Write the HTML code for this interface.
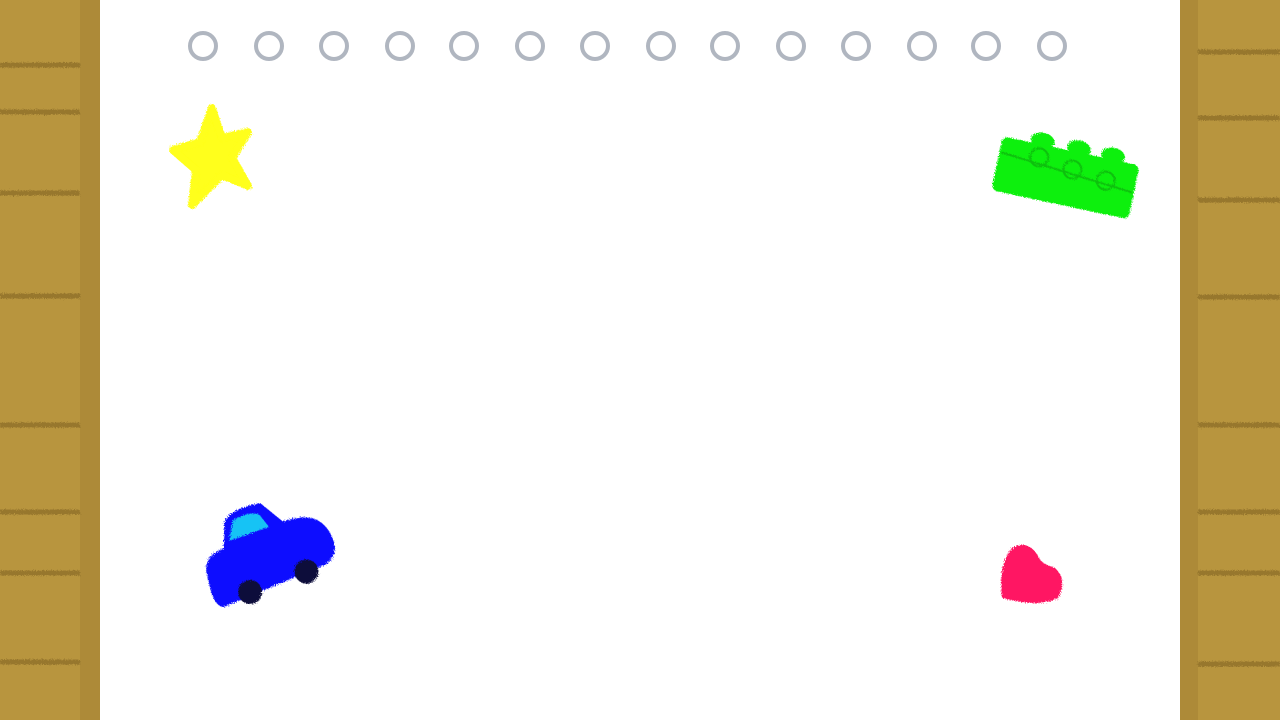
<!DOCTYPE html>
<html><head><meta charset="utf-8"><style>
html,body{margin:0;padding:0;width:1280px;height:720px;overflow:hidden;background:#fff}
svg{display:block}
</style></head><body>
<svg width="1280" height="720" viewBox="0 0 1280 720">
<defs>
<filter id="crayon" x="-20%" y="-20%" width="140%" height="140%">
<feTurbulence type="fractalNoise" baseFrequency="0.9" numOctaves="2" result="n"/>
<feDisplacementMap in="SourceGraphic" in2="n" scale="5"/>
</filter>
</defs>
<rect x="0" y="0" width="100" height="720" fill="#b8953e"/>
<rect x="80" y="0" width="20" height="720" fill="#ad8a38"/>
<rect x="1180" y="0" width="100" height="720" fill="#b8953e"/>
<rect x="1180" y="0" width="18" height="720" fill="#ad8a38"/>
<g stroke="#8f6f2a" stroke-width="5" opacity="0.8" filter="url(#crayon)">
<line x1="0" y1="65" x2="80" y2="65"/><line x1="0" y1="112" x2="80" y2="112"/>
<line x1="0" y1="193" x2="80" y2="193"/><line x1="0" y1="296" x2="80" y2="296"/>
<line x1="0" y1="425" x2="80" y2="425"/><line x1="0" y1="512" x2="80" y2="512"/>
<line x1="0" y1="573" x2="80" y2="573"/><line x1="0" y1="662" x2="80" y2="662"/>
<line x1="1198" y1="52" x2="1280" y2="52"/><line x1="1198" y1="118" x2="1280" y2="118"/>
<line x1="1198" y1="200" x2="1280" y2="200"/><line x1="1198" y1="297" x2="1280" y2="297"/>
<line x1="1198" y1="425" x2="1280" y2="425"/><line x1="1198" y1="512" x2="1280" y2="512"/>
<line x1="1198" y1="573" x2="1280" y2="573"/><line x1="1198" y1="664" x2="1280" y2="664"/>
</g>
<rect x="100" y="0" width="1080" height="720" fill="#fff"/>
<g fill="none" stroke="#b0b6c0" stroke-width="4">
<circle cx="203" cy="46" r="13"/><circle cx="269" cy="46" r="13"/><circle cx="334" cy="46" r="13"/>
<circle cx="400" cy="46" r="13"/><circle cx="464" cy="46" r="13"/><circle cx="530" cy="46" r="13"/>
<circle cx="595" cy="46" r="13"/><circle cx="661" cy="46" r="13"/><circle cx="725" cy="46" r="13"/>
<circle cx="791" cy="46" r="13"/><circle cx="856" cy="46" r="13"/><circle cx="922" cy="46" r="13"/>
<circle cx="986" cy="46" r="13"/><circle cx="1052" cy="46" r="13"/>
</g>
<g filter="url(#crayon)">
<path fill="#ffff1a" stroke="#ffff1a" stroke-width="8" stroke-linejoin="round"
 d="M212,108 L222,138 L248,132 L232,158 L248,186 L222,175 L192,205 L196,170 L173,150 L200,142 Z"/>
<g transform="rotate(12 1064 180)">
<rect x="995" y="150" width="140" height="55" rx="6" fill="#0ef00e"/>
<ellipse cx="1035" cy="146" rx="12" ry="8" fill="#0ef00e"/>
<ellipse cx="1072" cy="146" rx="12" ry="8" fill="#0ef00e"/>
<ellipse cx="1107" cy="146" rx="12" ry="8" fill="#0ef00e"/>
<g fill="none" stroke="#0cc00c" stroke-width="2">
<circle cx="1035" cy="163" r="9"/><circle cx="1070" cy="168" r="9"/><circle cx="1105" cy="172" r="9"/>
<line x1="997" y1="166" x2="1133" y2="178"/>
</g></g>
<g transform="rotate(-20 265 560)">
<path fill="#0a10ff" d="M205,560 Q205,535 230,535 L240,510 Q250,500 280,505 L295,530 Q330,530 335,555 Q340,580 320,585 L210,590 Q200,585 205,560 Z"/>
<path fill="#19c3f5" d="M238,530 L248,512 Q265,508 275,515 L280,530 Z"/>
<circle cx="240" cy="585" r="12" fill="#0a0a3a"/>
<circle cx="300" cy="585" r="12" fill="#0a0a3a"/>
</g>
<path fill="#ff1464"
 d="M1002,598 Q998,565 1012,548 Q1030,538 1040,560 Q1045,565 1055,568 Q1068,580 1058,598 Q1040,608 1002,598 Z"/>
</g>
</svg>
</body></html>
